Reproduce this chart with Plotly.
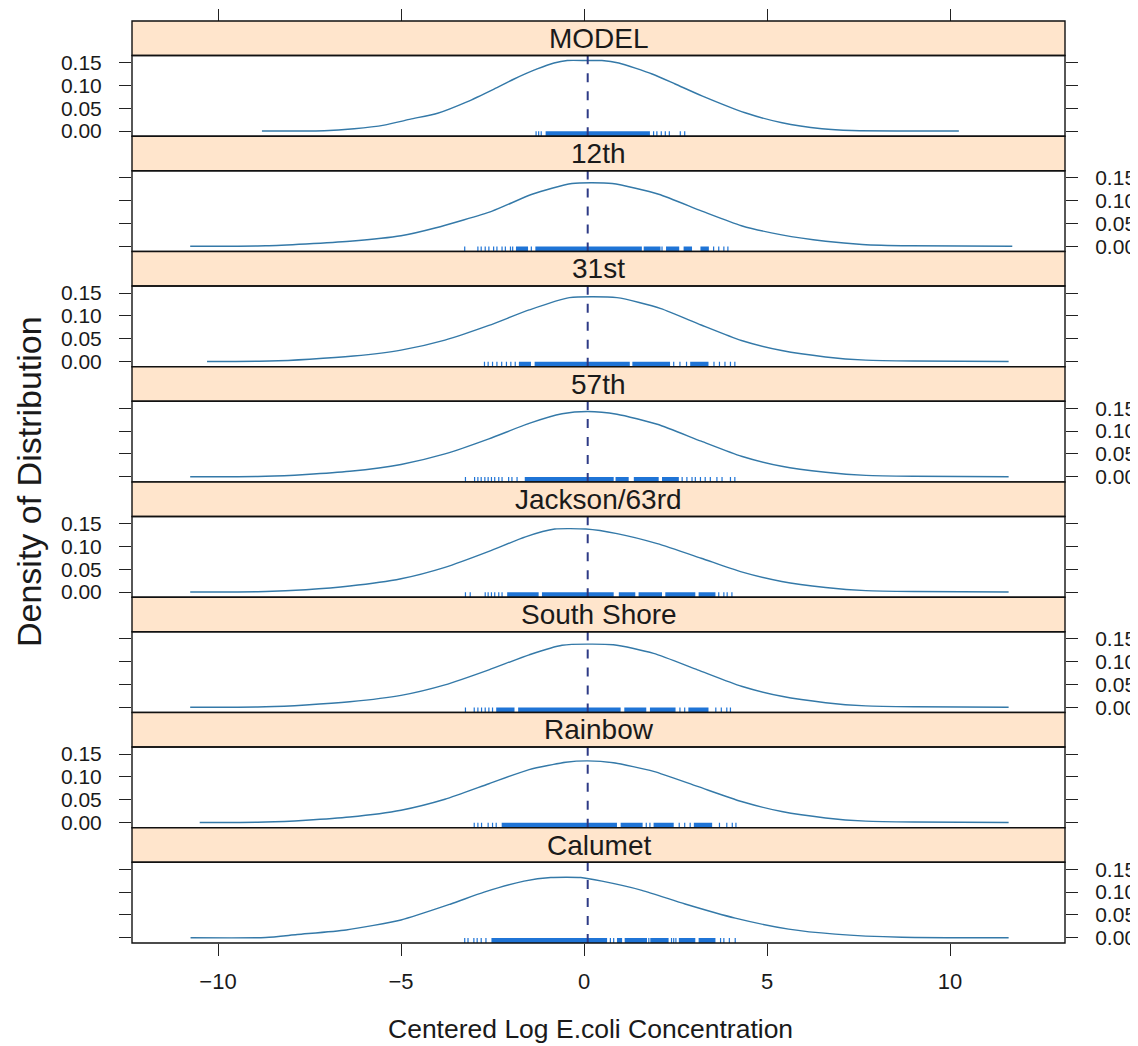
import plotly.graph_objects as go

# ---------------- data ----------------
panels = ["MODEL", "12th", "31st", "57th", "Jackson/63rd", "South Shore", "Rainbow", "Calumet"]

model_x = [-8.8, -7.1, -6.28, -5.46, -4.74, -4.0, -3.2, -2.46, -1.91, -1.28, -0.82, -0.46, 0.08, 0.49, 0.95, 1.86, 2.49, 3.22, 4.4, 5.41, 6.5, 7.32, 10.24]
model_y = [0, 0.0005, 0.005, 0.013, 0.026, 0.039, 0.064, 0.092, 0.114, 0.136, 0.149, 0.1545, 0.1545, 0.1545, 0.149, 0.125, 0.103, 0.077, 0.040, 0.018, 0.005, 0.001, 0]

s12_x = [-10.76, -8.7, -7.6, -6.4, -5.0, -4.07, -2.51, -1.42, -0.33, 0.77, 2.04, 3.22, 4.3, 5.4, 6.6, 7.6, 8.9, 11.7]
s12_y = [0, 0.001, 0.005, 0.011, 0.023, 0.040, 0.077, 0.114, 0.1375, 0.1375, 0.114, 0.077, 0.045, 0.025, 0.011, 0.004, 0.001, 0]

s31_x = [-10.3, -8.6, -7.5, -6.3, -5.0, -3.8, -2.6, -1.5, -0.4, 0.9, 2.1, 3.2, 4.3, 5.4, 6.6, 7.7, 9.0, 11.6]
s31_y = [0, 0.001, 0.005, 0.012, 0.025, 0.047, 0.079, 0.113, 0.140, 0.140, 0.116, 0.080, 0.046, 0.024, 0.010, 0.003, 0.001, 0]

s57_x = [-10.76, -8.7, -7.6, -6.4, -5.0, -3.8, -2.6, -1.5, -0.6, 0.1, 0.9, 2.0, 3.2, 4.3, 5.4, 6.6, 7.7, 9.0, 11.6]
s57_y = [0, 0.001, 0.005, 0.012, 0.027, 0.050, 0.083, 0.117, 0.138, 0.143, 0.137, 0.115, 0.078, 0.045, 0.023, 0.010, 0.003, 0.001, 0]

jack_x = [-10.76, -8.7, -7.6, -6.4, -5.0, -3.8, -2.6, -1.6, -0.8, 0.05, 0.9, 2.0, 3.2, 4.3, 5.4, 6.6, 7.7, 9.0, 11.6]
jack_y = [0, 0.001, 0.005, 0.013, 0.029, 0.054, 0.089, 0.121, 0.138, 0.138, 0.128, 0.106, 0.074, 0.044, 0.023, 0.010, 0.003, 0.001, 0]

south_x = [-10.76, -8.7, -7.6, -6.4, -5.0, -3.8, -2.6, -1.5, -0.6, 0.8, 1.9, 3.1, 4.3, 5.4, 6.6, 7.7, 9.0, 11.6]
south_y = [0, 0.001, 0.005, 0.012, 0.026, 0.049, 0.082, 0.115, 0.136, 0.137, 0.118, 0.082, 0.046, 0.024, 0.010, 0.003, 0.001, 0]

rain_x = [-10.5, -8.7, -7.6, -6.4, -5.0, -3.8, -2.6, -1.5, -0.5, 0.1, 0.8, 1.9, 3.1, 4.3, 5.4, 6.6, 7.7, 9.0, 11.6]
rain_y = [0, 0.001, 0.005, 0.012, 0.027, 0.051, 0.085, 0.116, 0.132, 0.135, 0.131, 0.112, 0.079, 0.046, 0.024, 0.010, 0.003, 0.001, 0]

calu_x = [-10.75, -8.7, -7.84, -6.5, -5.0, -3.64, -2.73, -1.64, -0.91, -0.09, 0.49, 1.58, 2.76, 4.13, 5.59, 6.86, 8.69, 11.6]
calu_y = [0, 0.0005, 0.007, 0.017, 0.039, 0.074, 0.100, 0.124, 0.132, 0.132, 0.124, 0.104, 0.074, 0.043, 0.019, 0.008, 0.001, 0]

# rug: isolated observations and densely packed stretches (start, end)
model_rug = [-1.31, -1.24, -1.17, 1.90, 1.99, 2.11, 2.22, 2.33, 2.63, 2.75]
model_dense = [(-1.05, 1.80)]
s12_rug = [-3.26, -2.90, -2.81, -2.70, -2.60, -2.47, -2.38, -2.24, -2.15, -2.01, -1.95, -1.44, 2.13, 3.54, 3.68, 3.82, 3.93]
s12_dense = [(-1.86, -1.53), (-1.33, 1.58), (1.63, 2.09), (2.24, 2.60), (2.72, 2.95), (3.18, 3.41)]
s31_rug = [-2.72, -2.62, -2.50, -2.38, -2.25, -2.12, -2.00, -1.88, 2.45, 2.62, 2.80, 3.55, 3.70, 3.85, 4.00, 4.12]
s31_dense = [(-1.78, -1.45), (-1.35, 1.25), (1.32, 2.35), (2.90, 3.40)]
s57_rug = [-3.24, -2.99, -2.90, -2.81, -2.71, -2.62, -2.53, -2.44, -2.33, -2.24, -2.06, -1.97, -1.83, 2.68, 2.81, 2.95, 3.04, 3.18, 3.31, 3.45, 3.63, 3.77, 4.00, 4.12]
s57_dense = [(-1.62, 0.81), (0.86, 1.22), (1.36, 2.04), (2.13, 2.59)]
jack_rug = [-3.24, -3.11, -2.70, -2.62, -2.53, -2.44, -2.33, -2.24, 3.68, 3.82, 3.91, 4.04]
jack_dense = [(-2.10, -1.24), (-1.15, 0.81), (0.95, 1.40), (1.49, 2.13), (2.22, 3.04), (3.13, 3.59)]
south_rug = [-3.24, -3.00, -2.90, -2.80, -2.70, -2.60, -2.50, 2.62, 2.75, 3.60, 3.75, 3.90, 4.00]
south_dense = [(-2.40, -1.90), (-1.80, 1.00), (1.10, 1.70), (1.80, 2.50), (2.85, 3.40)]
rain_rug = [-3.00, -2.90, -2.80, -2.62, -2.50, -2.40, 1.70, 1.80, 2.60, 2.75, 2.90, 3.70, 3.90, 4.05, 4.15]
rain_dense = [(-2.25, 0.90), (1.00, 1.60), (1.90, 2.45), (3.00, 3.50)]
calu_rug = [-3.26, -3.17, -3.01, -2.92, -2.81, -2.68, 0.72, 0.81, 1.77, 2.39, 2.45, 2.51, 3.73, 3.82, 3.97, 4.13]
calu_dense = [(-2.53, 0.63), (0.90, 1.04), (1.11, 1.72), (1.81, 2.31), (2.59, 3.04), (3.13, 3.59)]

ref_line = 0.1  # dashed reference line position

x_ticks = [-10, -5, 0, 5, 10]
y_ticks = [0.00, 0.05, 0.10, 0.15]
x_range = [-12.35, 13.14]
y_range = [-0.0115, 0.1655]

curves = [(model_x, model_y), (s12_x, s12_y), (s31_x, s31_y), (s57_x, s57_y),
          (jack_x, jack_y), (south_x, south_y), (rain_x, rain_y), (calu_x, calu_y)]
rugs = [(model_rug, model_dense), (s12_rug, s12_dense), (s31_rug, s31_dense), (s57_rug, s57_dense),
        (jack_rug, jack_dense), (south_rug, south_dense), (rain_rug, rain_dense), (calu_rug, calu_dense)]

# ---------------- layout geometry ----------------
# the page body adds an 8px margin, so the figure is 8px smaller and shifted
OFF = 8
W, Hfig = 1138 - OFF, 1046 - OFF
ml, mt = 132 - OFF, 21 - OFF
mr = W - (1065 - OFF)
mb = Hfig - (943 - OFF)
H = Hfig - mt - mb
PW = W - ml - mr
n = len(panels)
P = H / n
S = 34.5

FONT = "Liberation Sans, Arial, sans-serif"
TXT = "#1a1a1a"
LINE_COL = "#3479a8"
RUG_COL = "#1f74d6"
REF_COL = "#2d3a86"
STRIP_COL = "#ffe5cc"

fig = go.Figure()
layout = dict(
    width=W, height=Hfig,
    margin=dict(l=ml, r=mr, t=mt, b=mb, autoexpand=False),
    paper_bgcolor="white", plot_bgcolor="white",
    showlegend=False, barmode="overlay",
    font=dict(family=FONT, color=TXT),
)

rug_top = -0.0005
shapes = []
for i, name in enumerate(panels):
    ya = "y" if i == 0 else f"y{i+1}"
    yk = "yaxis" if i == 0 else f"yaxis{i+1}"
    top_px = i * P
    strip_bot = top_px + S
    bot_px = (i + 1) * P
    dom = [1 - bot_px / H, 1 - strip_bot / H]
    layout[yk] = dict(
        domain=dom, range=y_range, anchor="x", automargin=False,
        tickvals=y_ticks, tickformat=".2f",
        ticks="outside", ticklen=12, tickwidth=1.3, tickcolor="#222",
        mirror="ticks", side="left" if i % 2 == 0 else "right",
        showgrid=False, zeroline=False, showline=False,
        tickfont=dict(size=21, family=FONT, color=TXT),
        ticklabelstandoff=13, fixedrange=True,
    )
    cx, cy = curves[i]
    fig.add_trace(go.Scatter(x=cx, y=cy, mode="lines", xaxis="x", yaxis=ya,
                             line=dict(color=LINE_COL, width=1.4, shape="spline", smoothing=0.6),
                             hoverinfo="skip"))
    rx, dense = rugs[i]
    fig.add_trace(go.Bar(x=[(a + b) / 2 for a, b in dense], width=[b - a for a, b in dense],
                         y=[rug_top - y_range[0]] * len(dense), base=[y_range[0]] * len(dense),
                         xaxis="x", yaxis=ya, marker=dict(color=RUG_COL, line=dict(width=0)),
                         hoverinfo="skip"))
    seg_x, seg_y = [], []
    for v in rx:
        seg_x += [v, v, None]
        seg_y += [y_range[0], rug_top, None]
    fig.add_trace(go.Scatter(x=seg_x, y=seg_y, mode="lines", xaxis="x", yaxis=ya,
                             line=dict(color=RUG_COL, width=1.2), hoverinfo="skip"))
    fig.add_trace(go.Scatter(x=[ref_line, ref_line], y=y_range, mode="lines", xaxis="x", yaxis=ya,
                             line=dict(color=REF_COL, width=2, dash="dash"), hoverinfo="skip"))
    # strip
    shapes.append(dict(type="rect", xref="paper", yref="paper", x0=0, x1=1,
                       y0=1 - strip_bot / H, y1=1 - top_px / H,
                       fillcolor=STRIP_COL, line=dict(color="#111", width=1.4), layer="above"))
    # panel border
    shapes.append(dict(type="rect", xref="paper", yref="paper", x0=0, x1=1,
                       y0=1 - bot_px / H, y1=1 - strip_bot / H,
                       fillcolor="rgba(0,0,0,0)", line=dict(color="#111", width=1.4), layer="above"))

layout["xaxis"] = dict(
    domain=[0, 1], range=x_range, anchor=f"y{n}", automargin=False,
    tickvals=x_ticks, ticks="outside", ticklen=12, tickwidth=1.3, tickcolor="#222",
    showgrid=False, zeroline=False, showline=False,
    tickfont=dict(size=22, family=FONT, color=TXT), ticklabelstandoff=7, fixedrange=True,
)
layout["xaxis2"] = dict(
    overlaying="x", anchor="free", position=1, side="top", range=x_range, automargin=False,
    tickvals=x_ticks, ticks="outside", ticklen=12, tickwidth=1.3, tickcolor="#222",
    showticklabels=False, showgrid=False, zeroline=False, showline=False, fixedrange=True,
)
fig.add_trace(go.Scatter(x=[], y=[], xaxis="x2", yaxis="y", mode="lines", hoverinfo="skip"))

annotations = []
for i, name in enumerate(panels):
    top_px = i * P
    annotations.append(dict(text=name, xref="paper", yref="paper", x=0.5,
                            y=1 - (top_px + S / 2) / H, xanchor="center", yanchor="middle",
                            showarrow=False, font=dict(size=28, family=FONT, color=TXT)))
annotations.append(dict(text="Centered Log E.coli Concentration", xref="paper", yref="paper",
                        x=(590 - OFF - ml) / PW, y=-(1029 - OFF - mt - H) / H,
                        xanchor="center", yanchor="middle", showarrow=False,
                        font=dict(size=26.5, family=FONT, color=TXT)))
annotations.append(dict(text="Density of Distribution", xref="paper", yref="paper",
                        x=(29 - OFF - ml) / PW, y=0.5, textangle=-90,
                        xanchor="center", yanchor="middle", showarrow=False,
                        font=dict(size=34, family=FONT, color=TXT)))
layout["shapes"] = shapes
layout["annotations"] = annotations
fig.update_layout(**layout)

fig.write_html("out.html")
